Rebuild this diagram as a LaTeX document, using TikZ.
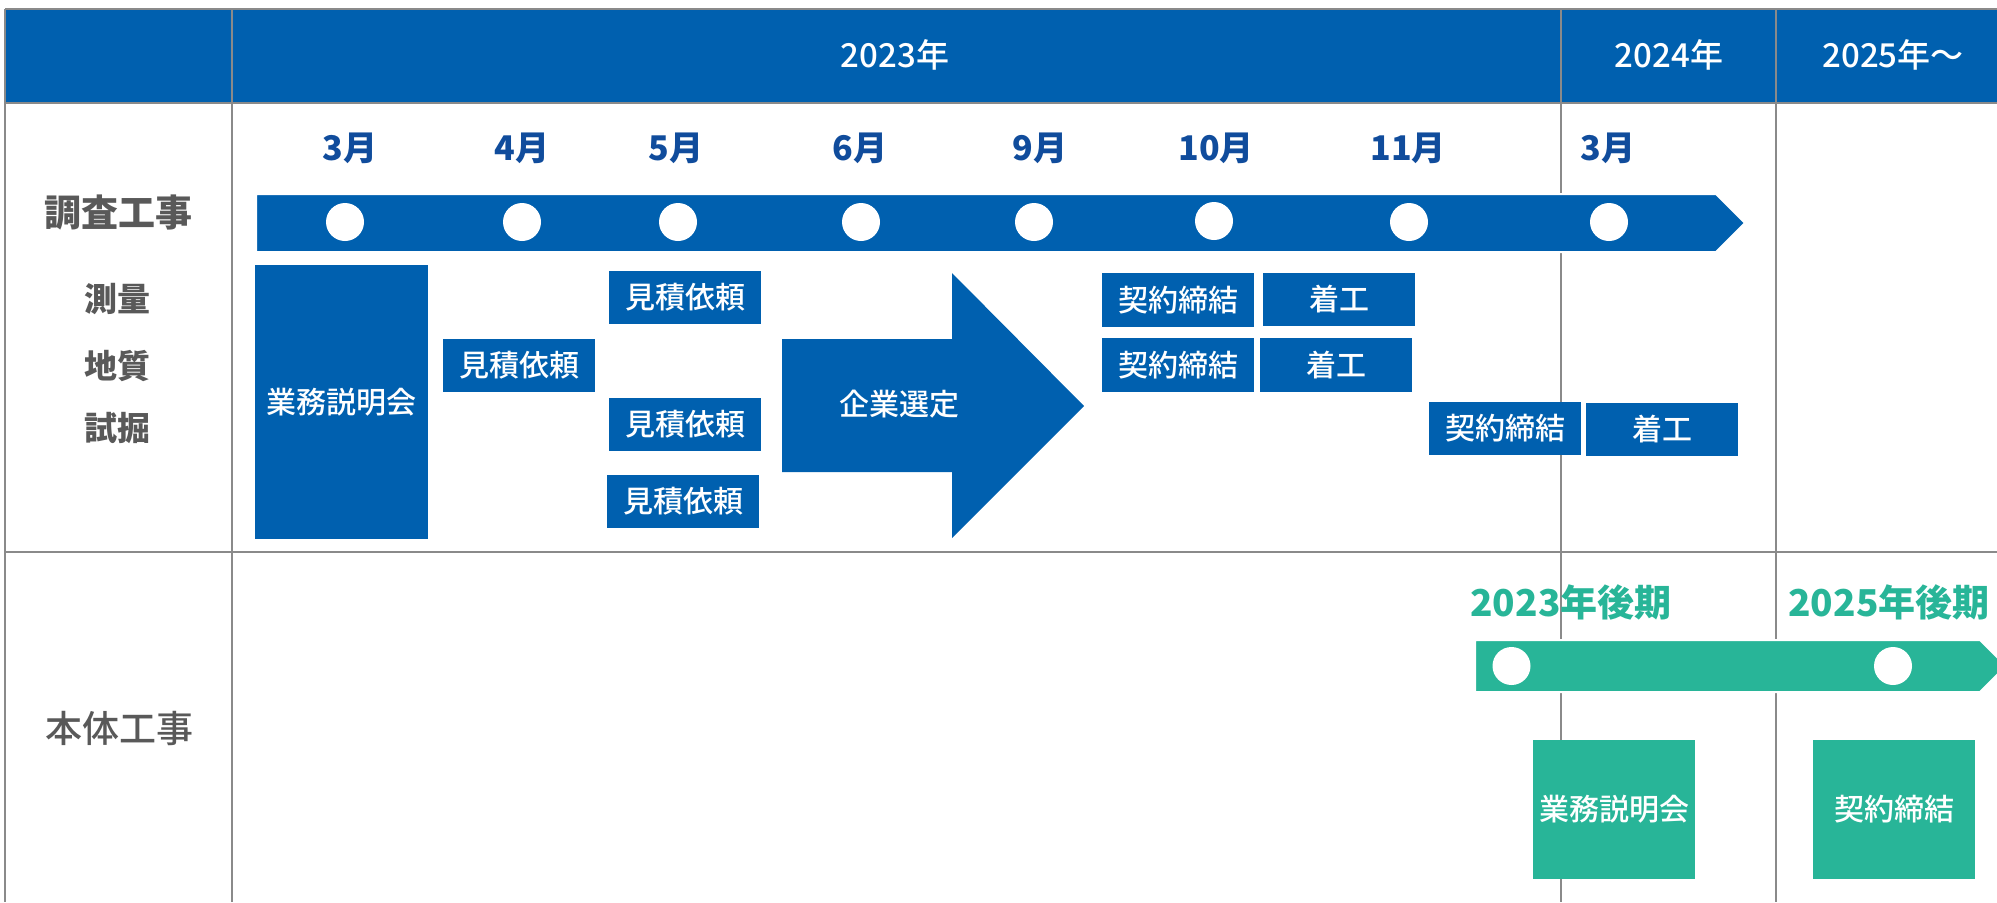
\documentclass[tikz,border=0pt]{standalone}
\usepackage{fontspec}
\setmainfont{Noto Sans CJK JP}
\newfontfamily\medfont{Noto Sans CJK JP Medium}
\definecolor{mainblue}{RGB}{0,96,175}
\definecolor{monthblue}{RGB}{16,76,156}
\definecolor{mygreen}{RGB}{40,181,152}
\definecolor{gridgray}{RGB}{138,138,138}
\definecolor{labelgray}{RGB}{89,89,89}
\begin{document}
\begin{tikzpicture}[x=0.5pt,y=-0.5pt,
  hdr/.style={text=white, font=\medfont\fontsize{16.5pt}{16.5pt}\selectfont, inner sep=0},
  monthlab/.style={text=monthblue, font=\bfseries\fontsize{17pt}{17pt}\selectfont, inner sep=0},
  rowlab/.style={text=labelgray, font=\bfseries\fontsize{18.5pt}{18.5pt}\selectfont, inner sep=0},
  rowlabreg/.style={text=labelgray, font=\medfont\fontsize{18.5pt}{18.5pt}\selectfont, inner sep=0},
  sublab/.style={text=labelgray, font=\bfseries\fontsize{16.5pt}{16.5pt}\selectfont, inner sep=0},
  greenlab/.style={text=mygreen, font=\bfseries\fontsize{18.5pt}{18.5pt}\selectfont, inner sep=0},
  bbox/.style={fill=mainblue, text=white, font=\medfont\fontsize{15pt}{15pt}\selectfont, inner sep=0, minimum width=76pt, minimum height=26.5pt},
  gbox/.style={fill=mygreen, text=white, font=\medfont\fontsize{15pt}{15pt}\selectfont, inner sep=0, minimum width=81pt, minimum height=69.5pt},
  milestone/.style={circle, fill=white, inner sep=0, minimum size=19pt},
  gridline/.style={draw=gridgray, line width=1.3pt},
  arrowtext/.style={text=white, font=\medfont\fontsize{15pt}{15pt}\selectfont, inner sep=0},
]
\useasboundingbox (0,0) rectangle (1997,902);
\clip (0,0) rectangle (1997,902);

% header band
\fill[mainblue] (5,9) rectangle (1997,103);

% grid
\draw[gridline] (5,9) -- (1997,9);
\draw[gridline] (5,103) -- (1997,103);
\draw[gridline] (5,552) -- (1997,552);
\draw[gridline] (5,9) -- (5,902);
\draw[gridline] (232,9) -- (232,902);
\draw[gridline] (1561,9) -- (1561,902);
\draw[gridline] (1776,9) -- (1776,902);

% header texts
\node[hdr] (y2023) at (895,55) {2023年};
\node[hdr] (y2024) at (1669,55) {2024年};
\node[hdr] (y2025) at (1893,55) {2025年～};

% row labels
\node[rowlab] (chosa) at (118,213) {調査工事};
\node[sublab] (sokuryo) at (117,299) {測量};
\node[sublab] (chishitsu) at (117,366) {地質};
\node[sublab] (shikutsu) at (117,428) {試掘};
\node[rowlabreg] (hontai) at (119,728) {本体工事};

% month labels
\node[monthlab] (m1) at (350,148) {3月};
\node[monthlab] (m2) at (522,148) {4月};
\node[monthlab] (m3) at (676,148) {5月};
\node[monthlab] (m4) at (860,148) {6月};
\node[monthlab] (m5) at (1040,148) {9月};
\node[monthlab] (m6) at (1216,148) {10月};
\node[monthlab] (m7) at (1408,148) {11月};
\node[monthlab] (m8) at (1608,148) {3月};

% blue timeline bar
\draw[fill=mainblue, draw=white, line width=1pt] (256,194) -- (1716,194) -- (1745,223) -- (1716,252) -- (256,252) -- cycle;
\node[milestone] (c1) at (345,222) {};
\node[milestone] (c2) at (522,222) {};
\node[milestone] (c3) at (678,222) {};
\node[milestone] (c4) at (861,222) {};
\node[milestone] (c5) at (1034,222) {};
\node[milestone] (c6) at (1214,221) {};
\node[milestone] (c7) at (1409,222) {};
\node[milestone] (c8) at (1609,222) {};

% boxes (survey)
\node[bbox, minimum width=86.5pt, minimum height=137pt] (setsumei) at (341.5,402) {業務説明会};
\node[bbox] (mitsu1) at (519,365.5) {見積依頼};
\node[bbox] (mitsu2) at (685,297.5) {見積依頼};
\node[bbox] (mitsu3) at (685,424.5) {見積依頼};
\node[bbox] (mitsu4) at (683,501.5) {見積依頼};

% big arrow
\fill[mainblue] (782,339) -- (952,339) -- (952,273) -- (1084,406) -- (952,538) -- (952,472) -- (782,472) -- cycle;
\node[arrowtext] (sentei) at (899,404) {企業選定};

\node[bbox, minimum height=27pt] (kei1) at (1178,300) {契約締結};
\node[bbox] (chako1) at (1339,299.5) {着工};
\node[bbox, minimum height=27pt] (kei2) at (1178,365) {契約締結};
\node[bbox, minimum height=27pt] (chako2) at (1336,365) {着工};
\node[bbox] (kei3) at (1505,428) {契約締結};
\node[bbox] (chako3) at (1662,429.5) {着工};

% main construction
\node[greenlab] (g2023) at (1571,602) {2023年後期};
\node[greenlab] (g2025) at (1889,602) {2025年後期};
\draw[fill=mygreen, draw=white, line width=1pt] (1475,640) -- (1980,640) -- (2006,666) -- (1980,692) -- (1475,692) -- cycle;
\node[milestone] (gc1) at (1511.5,666) {};
\node[milestone] (gc2) at (1893,666) {};
\node[gbox] (gsetsumei) at (1614,809.5) {業務説明会};
\node[gbox] (gkei) at (1894,809.5) {契約締結};
\end{tikzpicture}
\end{document}
